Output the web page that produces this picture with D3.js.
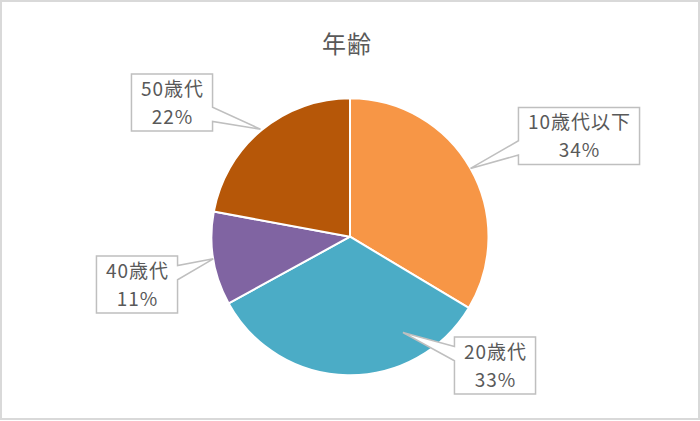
<!DOCTYPE html>
<html>
<head>
<meta charset="utf-8">
<script src="https://cdn.jsdelivr.net/npm/d3@7"></script>
<style>
  html, body { margin: 0; padding: 0; background: #fff; }
  svg { display: block; }
  text { font-family: "Noto Sans CJK JP", "Noto Sans", sans-serif; fill: #595959; }
</style>
</head>
<body>
<svg id="chart" width="700" height="421"></svg>
<script>
// data
var title = '年齢';
var categories = ['10歳代以下', '20歳代', '40歳代', '50歳代'];
var values = [33.6, 33.4, 10.9, 22.1];
var colors = ['#F79646', '#4BACC6', '#8064A2', '#B65708'];

// callout layout: box centre, tip angle offset (deg) and tip radius factor
var boxCentres = [[579, 136], [495, 365.5], [137, 284.5], [172, 102.5]];
var tipShift = [0, -30, 0, 0];
var tipRadius = [1.0, 0.79, 1.0, 1.01];

var W = 700, H = 421;
var cx = 350, cy = 236.7, R = 138.5;
var svg = d3.select('#chart');

svg.append('rect')
  .attr('x', 1).attr('y', 1)
  .attr('width', W - 2).attr('height', H - 3)
  .attr('fill', '#fff')
  .attr('stroke', '#d9d9d9')
  .attr('stroke-width', 2);

svg.append('text')
  .attr('x', 347).attr('y', 53)
  .attr('text-anchor', 'middle')
  .style('font-size', '24px')
  .style('letter-spacing', '1px')
  .text(title);

var total = d3.sum(values);
var pie = d3.pie().sort(null).value(function(d) { return d; });
var arcs = pie(values);
var arc = d3.arc().innerRadius(0).outerRadius(R);

var g = svg.append('g').attr('transform', 'translate(' + cx + ',' + cy + ')');

g.selectAll('path.slice')
  .data(arcs)
  .enter().append('path')
  .attr('class', 'slice')
  .attr('d', arc)
  .attr('fill', function(d, i) { return colors[i]; })
  .attr('stroke', '#fff')
  .attr('stroke-width', 2)
  .attr('stroke-linejoin', 'round');

// callouts
var labels = svg.append('g');
arcs.forEach(function(d, i) {
  var mid = (d.startAngle + d.endAngle) / 2 + tipShift[i] * Math.PI / 180;
  var r = R * tipRadius[i];
  var tip = [cx + Math.sin(mid) * r, cy - Math.cos(mid) * r];

  var lab = labels.append('g');
  var bc = boxCentres[i];
  var line1 = lab.append('text')
    .attr('x', bc[0] + 0.5).attr('y', bc[1] - 7)
    .attr('text-anchor', 'middle')
    .style('font-size', '19px')
    .style('letter-spacing', '1px')
    .text(categories[i]);
  lab.append('text')
    .attr('x', bc[0] + 0.5).attr('y', bc[1] + 21)
    .attr('text-anchor', 'middle')
    .style('font-size', '19px')
    .style('letter-spacing', '1px')
    .text(Math.round(values[i] / total * 100) + '%');

  var w = line1.node().getComputedTextLength() + 18;
  var h = 57;
  var x0 = bc[0] - w / 2, x1 = bc[0] + w / 2;
  var y0 = bc[1] - h / 2, y1 = bc[1] + h / 2;
  var b1, b2;
  if (tip[1] > bc[1]) { b1 = y0 + h * 7 / 12; b2 = y0 + h * 10 / 12; }
  else { b1 = y0 + h * 2 / 12; b2 = y0 + h * 5 / 12; }

  var p = d3.path();
  p.moveTo(x0, y0);
  p.lineTo(x1, y0);
  if (tip[0] > x1) {
    p.lineTo(x1, b1); p.lineTo(tip[0], tip[1]); p.lineTo(x1, b2);
    p.lineTo(x1, y1); p.lineTo(x0, y1);
  } else {
    p.lineTo(x1, y1); p.lineTo(x0, y1);
    p.lineTo(x0, b2); p.lineTo(tip[0], tip[1]); p.lineTo(x0, b1);
  }
  p.closePath();

  lab.insert('path', 'text')
    .attr('d', p.toString())
    .attr('fill', '#fff')
    .attr('stroke', '#bfbfbf')
    .attr('stroke-width', 1.5);
});
</script>
</body>
</html>
